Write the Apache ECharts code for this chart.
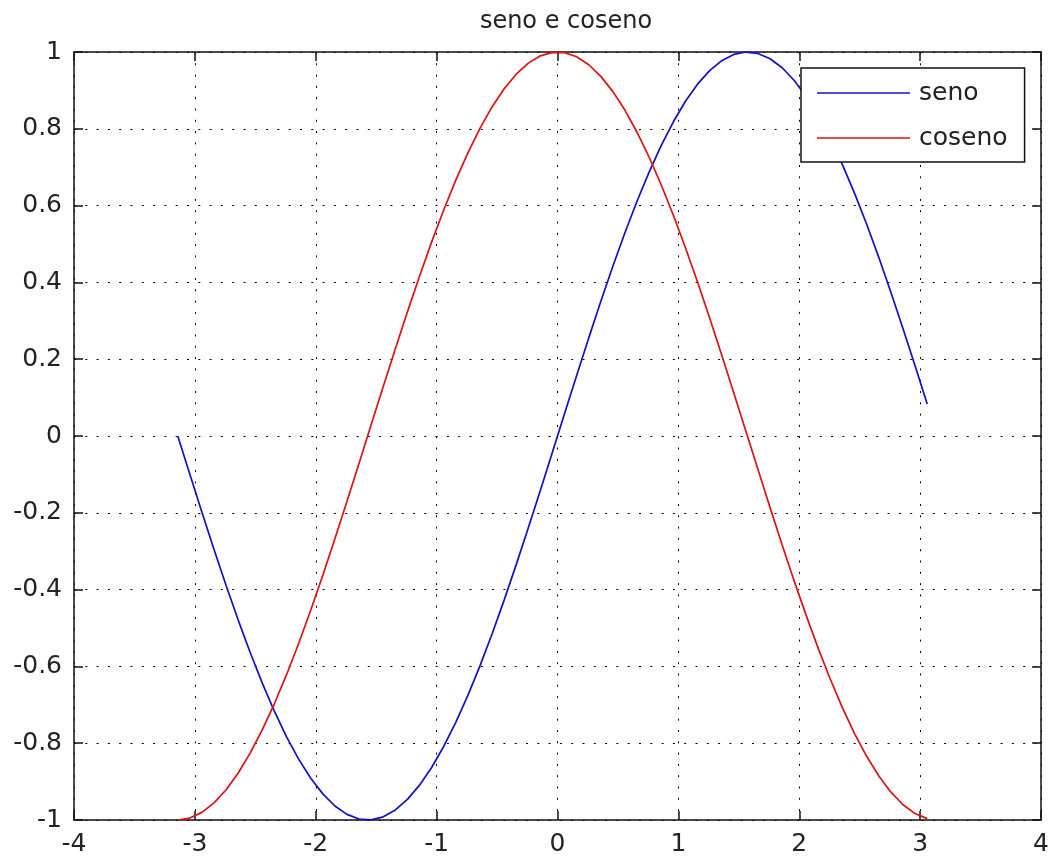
<!DOCTYPE html>
<html>
<head>
<meta charset="utf-8">
<script src="https://cdn.jsdelivr.net/npm/echarts@6/dist/echarts.min.js"></script>
<style>
html,body{margin:0;padding:0;background:#fff;}
#chart{width:1052px;height:859px;}
</style>
</head>
<body>
<div id="chart"></div>
<script>
const titleText = 'seno e coseno';
const seriesNames = ['seno', 'coseno'];
const xValues = [-3.1416,-3.0416,-2.9416,-2.8416,-2.7416,-2.6416,-2.5416,-2.4416,-2.3416,-2.2416,-2.1416,-2.0416,-1.9416,-1.8416,-1.7416,-1.6416,-1.5416,-1.4416,-1.3416,-1.2416,-1.1416,-1.0416,-0.9416,-0.8416,-0.7416,-0.6416,-0.5416,-0.4416,-0.3416,-0.2416,-0.1416,-0.0416,0.0584,0.1584,0.2584,0.3584,0.4584,0.5584,0.6584,0.7584,0.8584,0.9584,1.0584,1.1584,1.2584,1.3584,1.4584,1.5584,1.6584,1.7584,1.8584,1.9584,2.0584,2.1584,2.2584,2.3584,2.4584,2.5584,2.6584,2.7584,2.8584,2.9584,3.0584];
const seno = [0,-0.0998,-0.1987,-0.2955,-0.3894,-0.4794,-0.5646,-0.6442,-0.7174,-0.7833,-0.8415,-0.8912,-0.9320,-0.9636,-0.9854,-0.9975,-0.9996,-0.9917,-0.9738,-0.9463,-0.9093,-0.8632,-0.8085,-0.7457,-0.6755,-0.5985,-0.5155,-0.4274,-0.3350,-0.2392,-0.1411,-0.0416,0.0584,0.1577,0.2555,0.3508,0.4425,0.5298,0.6119,0.6878,0.7568,0.8183,0.8716,0.9162,0.9516,0.9775,0.9937,0.9999,0.9962,0.9825,0.9589,0.9258,0.8835,0.8323,0.7728,0.7055,0.6313,0.5507,0.4646,0.3739,0.2794,0.1822,0.0831];
const coseno = [-1,-0.9950,-0.9801,-0.9553,-0.9211,-0.8776,-0.8253,-0.7648,-0.6967,-0.6216,-0.5403,-0.4536,-0.3624,-0.2675,-0.1700,-0.0707,0.0292,0.1288,0.2272,0.3233,0.4161,0.5048,0.5885,0.6663,0.7374,0.8011,0.8569,0.9041,0.9422,0.9710,0.9900,0.9991,0.9983,0.9875,0.9668,0.9365,0.8968,0.8481,0.7910,0.7259,0.6536,0.5748,0.4903,0.4008,0.3073,0.2108,0.1122,0.0124,-0.0875,-0.1865,-0.2837,-0.3780,-0.4685,-0.5544,-0.6347,-0.7087,-0.7756,-0.8347,-0.8855,-0.9275,-0.9602,-0.9833,-0.9965];
const xMin = -4, xMax = 4, xStep = 1;
const yMin = -1, yMax = 1, yStep = 0.2;

const font = 'DejaVu Sans';
const axisLineStyle = {color:'#111', width:1.5};
const dotted = {color:'#000', width:1, type:[2, 9.3]};
const colors = ['#1010c8', '#e01010'];

function pairs(xs, ys){ return xs.map((x,i)=>[x, ys[i]]); }

const chart = echarts.init(document.getElementById('chart'), null, {renderer:'canvas'});
chart.setOption({
  backgroundColor:'#fff',
  animation:false,
  title:{text:titleText, left:561, top:5, textAlign:'center',
    textStyle:{fontFamily:font, fontSize:24, fontWeight:'normal', color:'#222'}},
  grid:{left:74, right:4, top:52, bottom:39, containLabel:false},
  legend:{
    left:801, top:68, orient:'vertical', icon:'rect',
    padding:[11,17,10,16], itemGap:17, itemWidth:93, itemHeight:1.6,
    backgroundColor:'#fff', borderColor:'#111', borderWidth:1.5, borderRadius:0,
    textStyle:{fontFamily:font, fontSize:25, lineHeight:28, height:28, color:'#222', padding:[0,0,0,4]},
    data:seriesNames
  },
  xAxis:[
    {type:'value', min:xMin, max:xMax, interval:xStep, position:'bottom',
     axisLine:{show:true, onZero:false, lineStyle:axisLineStyle},
     axisTick:{show:true, inside:true, length:9, lineStyle:axisLineStyle},
     axisLabel:{fontFamily:font, fontSize:25, color:'#222', margin:12},
     splitLine:{show:true, lineStyle:dotted}},
    {type:'value', min:xMin, max:xMax, interval:xStep, position:'top',
     axisLine:{show:true, onZero:false, lineStyle:axisLineStyle},
     axisTick:{show:true, inside:true, length:9, lineStyle:axisLineStyle},
     axisLabel:{show:false}, splitLine:{show:false}}
  ],
  yAxis:[
    {type:'value', min:yMin, max:yMax, interval:yStep, position:'left',
     axisLine:{show:true, onZero:false, lineStyle:axisLineStyle},
     axisTick:{show:true, inside:true, length:9, lineStyle:axisLineStyle},
     axisLabel:{fontFamily:font, fontSize:25, color:'#222', margin:12},
     splitLine:{show:true, lineStyle:dotted}},
    {type:'value', min:yMin, max:yMax, interval:yStep, position:'right',
     axisLine:{show:true, onZero:false, lineStyle:axisLineStyle},
     axisTick:{show:true, inside:true, length:9, lineStyle:axisLineStyle},
     axisLabel:{show:false}, splitLine:{show:false}}
  ],
  series:[
    {name:seriesNames[0], type:'line', data:pairs(xValues, seno), symbol:'none',
     lineStyle:{color:colors[0], width:1.7}, itemStyle:{color:colors[0]}},
    {name:seriesNames[1], type:'line', data:pairs(xValues, coseno), symbol:'none',
     lineStyle:{color:colors[1], width:1.7}, itemStyle:{color:colors[1]}}
  ]
});
</script>
</body>
</html>
